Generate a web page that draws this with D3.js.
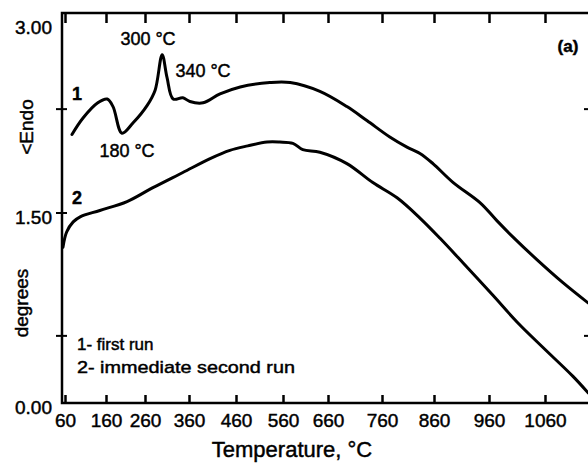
<!DOCTYPE html>
<html lang="en">
<head>
    <meta charset="UTF-8">
    <title>DTA runs</title>
    <script src="https://d3js.org/d3.v7.min.js"></script>
    <style>
        body {
            margin: 0;
            background-color: #ffffff;
        }

        svg {
            display: block;
            font-family: "Liberation Sans", Arial, sans-serif;
        }

        svg text {
            fill: #000;
            stroke: #000;
            stroke-width: 0.45px; /* scanned print looks heavier than plain Arial */
        }

        .axis path {
            display: none;
        }

        .axis line {
            stroke: #000;
            stroke-width: 2.5;
        }

        .axis text {
            font-size: 19px;
        }

        .curve {
            fill: none;
            stroke: #000;
            stroke-width: 3;
            stroke-linejoin: round;
            stroke-linecap: round;
        }
    </style>
</head>
<body>

<svg width="588" height="464"></svg>

<script>
    // tick labels
    const xTickLabels = [60, 160, 260, 360, 460, 560, 660, 760, 860, 960, 1060];
    const yTickLabels = [0, 1.5, 3];
    const yMinorTicks = [0.53, 1.5, 2.32];
    const rightTicks = [0.53, 2.32];

    // curve 1 - first run
    const run1Temp = [77, 104, 140, 163, 178, 201, 229, 265, 283, 299, 310, 324, 346, 362, 390,
        426, 469, 532, 576, 642, 695, 732, 775, 808, 833, 858, 895, 944, 974, 1003, 1046, 1092, 1137];
    const run1Value = [2.12, 2.25, 2.37, 2.40, 2.34, 2.13, 2.21, 2.35, 2.47, 2.75, 2.57, 2.40, 2.41, 2.38, 2.37,
        2.44, 2.495, 2.53, 2.53, 2.46, 2.34, 2.23, 2.10, 2.02, 1.97, 1.89, 1.74, 1.58, 1.44, 1.31, 1.13, 0.95, 0.79];

    // curve 2 - immediate second run
    const run2Temp = [55, 64, 80, 97, 145, 214, 278, 346, 405, 447, 485, 526, 553, 582, 604,
        642, 695, 743, 789, 833, 871, 913, 967, 1010, 1056, 1110, 1137];
    const run2Value = [1.23, 1.35, 1.43, 1.47, 1.52, 1.59, 1.70, 1.82, 1.93, 1.995, 2.03, 2.06, 2.06, 2.05, 2.00,
        1.98, 1.89, 1.74, 1.62, 1.46, 1.30, 1.105, 0.85, 0.64, 0.44, 0.21, 0.08];

    const frame = {left: 62, top: 13, bottom: 403, right: 600};

    const svg = d3.select("svg");

    // the temperature axis of the recorder is not evenly spaced, so map each labelled tick
    const xScale = d3.scaleLinear()
        .domain(xTickLabels)
        .range([65, 106, 145, 189, 236, 283, 328, 382, 434, 489, 545]);

    const yScale = d3.scaleLinear()
        .domain([0, 3])
        .range([403, 23]);

    // frame
    svg.append("path")
        .attr("d", `M${frame.right},${frame.top}H${frame.left}V${frame.bottom}H${frame.right}`)
        .attr("fill", "none")
        .attr("stroke", "#000")
        .attr("stroke-width", 2.5);

    // bottom axis, ticks pointing up
    svg.append("g")
        .attr("class", "axis")
        .attr("transform", `translate(0, ${frame.bottom})`)
        .call(d3.axisBottom(xScale)
            .tickValues(xTickLabels)
            .tickSizeInner(-8)
            .tickSizeOuter(0)
            .tickPadding(11)
            .tickFormat(d3.format("d")));

    // top axis, ticks pointing down
    svg.append("g")
        .attr("class", "axis")
        .attr("transform", `translate(0, ${frame.top})`)
        .call(d3.axisBottom(xScale)
            .tickValues(xTickLabels)
            .tickSizeInner(10)
            .tickSizeOuter(0)
            .tickFormat(""));

    // left axis labels
    svg.append("g")
        .attr("class", "axis")
        .attr("transform", `translate(${frame.left}, 0)`)
        .call(d3.axisLeft(yScale)
            .tickValues(yTickLabels)
            .tickSize(0)
            .tickPadding(10)
            .tickFormat(d3.format(".2f")))
        .selectAll("text")
        .attr("dy", "0.55em");

    // small ticks crossing the left axis
    svg.selectAll(".ytick")
        .data(yMinorTicks)
        .enter()
        .append("line")
        .attr("x1", frame.left - 6)
        .attr("x2", frame.left + 5)
        .attr("y1", d => yScale(d))
        .attr("y2", d => yScale(d))
        .attr("stroke", "#000")
        .attr("stroke-width", 2);

    // right side ticks (axis itself is outside the picture)
    svg.selectAll(".rtick")
        .data(rightTicks)
        .enter()
        .append("line")
        .attr("x1", 584)
        .attr("x2", 592)
        .attr("y1", d => yScale(d))
        .attr("y2", d => yScale(d))
        .attr("stroke", "#000")
        .attr("stroke-width", 2);

    const line = d3.line()
        .x(d => xScale(d[0]))
        .y(d => yScale(d[1]))
        .curve(d3.curveCatmullRom.alpha(0.5));

    svg.append("path")
        .attr("class", "curve")
        .attr("d", line(d3.zip(run1Temp, run1Value)));

    svg.append("path")
        .attr("class", "curve")
        .attr("d", line(d3.zip(run2Temp, run2Value)));

    // axis titles
    svg.append("text")
        .attr("x", 292)
        .attr("y", 457)
        .attr("text-anchor", "middle")
        .attr("font-size", "22px")
        .text("Temperature, °C");

    svg.append("text")
        .attr("transform", "translate(33, 127) rotate(-90)")
        .attr("text-anchor", "middle")
        .attr("font-size", "19px")
        .text("<Endo");

    svg.append("text")
        .attr("transform", "translate(28, 303) rotate(-90)")
        .attr("text-anchor", "middle")
        .attr("font-size", "19px")
        .text("degrees");

    // annotations
    const notes = [
        {t: "300 °C", x: 148, y: 45, size: 18, w: "normal"},
        {t: "340 °C", x: 203, y: 77, size: 18, w: "normal"},
        {t: "180 °C", x: 127, y: 157, size: 18, w: "normal"},
        {t: "1", x: 77, y: 100, size: 18, w: "bold"},
        {t: "2", x: 77, y: 204, size: 18, w: "bold"},
        {t: "(a)", x: 568, y: 52, size: 17, w: "bold"}
    ];

    svg.selectAll(".note")
        .data(notes)
        .enter()
        .append("text")
        .attr("x", d => d.x)
        .attr("y", d => d.y)
        .attr("text-anchor", "middle")
        .attr("font-size", d => d.size + "px")
        .attr("font-weight", d => d.w)
        .text(d => d.t);

    // legend
    svg.append("text")
        .attr("x", 77)
        .attr("y", 350)
        .attr("font-size", "17px")
        .text("1- first run");

    svg.append("text")
        .attr("x", 77)
        .attr("y", 373)
        .attr("font-size", "17px")
        .attr("textLength", 218)
        .attr("lengthAdjust", "spacingAndGlyphs")
        .text("2- immediate second run");
</script>

</body>
</html>
